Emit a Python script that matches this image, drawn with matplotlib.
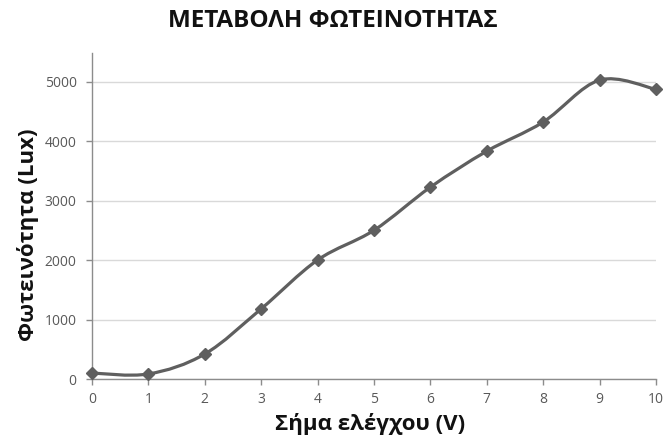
import matplotlib
matplotlib.use("Agg")
import matplotlib.pyplot as plt
from matplotlib.path import Path
from matplotlib.patches import PathPatch
import numpy as np

# Control signal (V) and measured illuminance (Lux)
signal_v = [0, 1, 2, 3, 4, 5, 6, 7, 8, 9, 10]
lux = [100, 85, 420, 1180, 2000, 2500, 3225, 3830, 4320, 5025, 4870]
y_ticks = [0, 1000, 2000, 3000, 4000, 5000]

title = "ΜΕΤΑΒΟΛΗ ΦΩΤΕΙΝΟΤΗΤΑΣ"
x_label = "Σήμα ελέγχου (V)"
y_label = "Φωτεινότητα (Lux)"

LINE = "#5f5f5f"
GRID = "#d9d9d9"
AXIS = "#8c8c8c"
TICKTXT = "#595959"

plt.rcParams["font.family"] = ["Open Sans", "DejaVu Sans"]

fig = plt.figure(figsize=(6.65, 4.4), dpi=100)
ax = fig.add_axes([92 / 665, 1 - 379 / 440, (656 - 92) / 665, (379 - 53) / 440])


def smooth_path(xs, ys):
    """Cubic Bezier segments through the points (Catmull-Rom style smoothing)."""
    pts = np.column_stack([xs, ys]).astype(float)
    n = len(pts)
    verts = [pts[0]]
    codes = [Path.MOVETO]
    for i in range(n - 1):
        p0 = pts[i - 1] if i > 0 else pts[i]
        p1 = pts[i]
        p2 = pts[i + 1]
        p3 = pts[i + 2] if i + 2 < n else pts[i + 1]
        c1 = p1 + (p2 - p0) / 6.0
        c2 = p2 - (p3 - p1) / 6.0
        verts += [c1, c2, p2]
        codes += [Path.CURVE4] * 3
    return Path(verts, codes)


ax.add_patch(PathPatch(smooth_path(signal_v, lux), facecolor="none",
                       edgecolor=LINE, lw=2.3, zorder=3, capstyle="round"))
ax.plot(signal_v, lux, linestyle="none", marker="D", markersize=6.5,
        color=LINE, zorder=4, clip_on=False)

ax.set_xlim(0, 10)
ax.set_ylim(0, 5480)
ax.set_xticks(signal_v)
ax.set_yticks(y_ticks)
ax.yaxis.grid(True, color=GRID, lw=1.0)
ax.set_axisbelow(True)

for side in ["top", "right"]:
    ax.spines[side].set_visible(False)
for side in ["left", "bottom"]:
    ax.spines[side].set_color(AXIS)
    ax.spines[side].set_linewidth(1.0)

ax.tick_params(axis="both", direction="out", length=4, width=1.0,
               color=AXIS, labelcolor=TICKTXT, labelsize=10)
ax.tick_params(axis="x", pad=5)
ax.tick_params(axis="y", pad=7)

fig.text(0.5, 1 - 21 / 440, title, ha="center", va="center",
         fontsize=17.5, fontweight="bold", color="#111111")
fig.text(0.557, 1 - 424 / 440, x_label, ha="center", va="center",
         fontsize=16, fontweight="bold", color="#111111")
fig.text(28 / 665, 1 - 235 / 440, y_label, ha="center", va="center",
         rotation=90, fontsize=16, fontweight="bold", color="#111111")

fig.savefig("out.png", dpi=100)
